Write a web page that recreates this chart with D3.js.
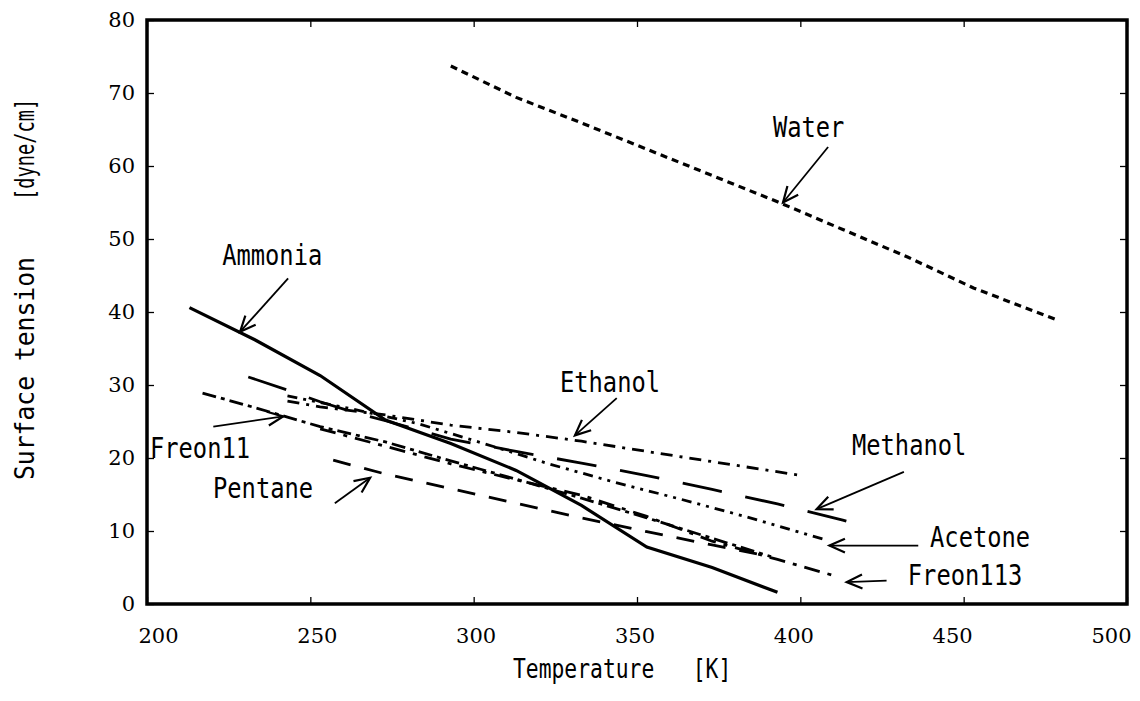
<!DOCTYPE html>
<html><head><meta charset="utf-8">
<script src="https://cdn.jsdelivr.net/npm/d3@7"></script>
<style>body{margin:0;background:#fff}svg{display:block}</style>
</head><body>
<script>
// ---------- data ----------
const xTicks = [200, 250, 300, 350, 400, 450, 500];
const yTicks = [0, 10, 20, 30, 40, 50, 60, 70, 80];

const waterT    = [293, 313, 333, 353, 373, 393, 413, 433, 453, 478];
const waterV    = [73.7, 69.4, 65.9, 62.3, 58.7, 55.1, 51.3, 47.5, 43.3, 39.0];
const ammoniaT  = [213, 233, 253, 273, 293, 313, 333, 353, 373, 393];
const ammoniaV  = [40.6, 36.2, 31.3, 25.2, 22.0, 18.3, 13.5, 7.8, 5.0, 1.6];
const ethanolT  = [243, 253, 273, 293, 313, 333, 353, 373, 399];
const ethanolV  = [27.8, 27.0, 25.9, 24.5, 23.5, 22.3, 20.9, 19.5, 17.7];
const methanolT = [231, 243, 253, 263, 273, 293, 313, 333, 353, 373, 393, 413, 421];
const methanolV = [31.1, 29.3, 27.7, 26.3, 25.1, 22.6, 20.9, 19.3, 17.6, 15.7, 13.7, 11.5, 10.5];
const acetoneT  = [243, 263, 283, 303, 323, 343, 363, 383, 407];
const acetoneV  = [28.5, 26.7, 24.7, 22.0, 19.2, 16.7, 14.4, 12.0, 8.9];
const freon11T  = [217, 233, 243, 253, 273, 293, 313, 333, 353, 373, 391];
const freon11V  = [28.9, 26.9, 25.6, 24.3, 22.2, 19.6, 17.1, 14.5, 11.8, 9.0, 6.5];
const freon113T = [253, 273, 293, 313, 333, 353, 373, 393, 411];
const freon113V = [24.0, 21.6, 19.2, 17.0, 14.9, 12.0, 8.6, 6.1, 3.8];
const pentaneT  = [257, 273, 293, 313, 333, 353, 373, 391];
const pentaneV  = [19.7, 17.8, 15.8, 13.8, 11.8, 9.9, 8.1, 6.5];

const seriesNames = ["Water", "Ammonia", "Ethanol", "Methanol", "Acetone", "Freon11", "Freon113", "Pentane"];

// labels (text anchor point in data units) and arrows (from -> tip, data units)
const labelNames = ["Water", "Ammonia", "Ethanol", "Methanol", "Acetone", "Freon113", "Freon11", "Pentane"];
const labelAt    = [[391.6, 64.0], [223, 46.4], [326.4, 29.0], [415.8, 20.4], [439.7, 7.8], [432.9, 2.6], [200.9, 20.0], [220.2, 14.5]];
const arrowFrom  = [[408.5, 62.6], [243.2, 44.6], [343.8, 28.2], [431.7, 18.1], [436.1, 8.0], [426.4, 3.2], [220.3, 24.3], [257.5, 13.8]];
const arrowTo    = [[394.7, 55.0], [228.5, 37.3], [331.0, 23.1], [405.0, 13.0], [408.9, 8.0], [414.2, 3.0], [241.7, 25.7], [268.3, 17.3]];

const xTitle = "Temperature   [K]";
const yTitleMain = "Surface tension";
const yTitleUnit = "[dyne/cm]";

// ---------- drawing ----------
const W = 1140, H = 701;
const svg = d3.select("body").append("svg").attr("width", W).attr("height", H);

const x = d3.scaleLinear().domain([200, 500]).range([147, 1127]);
const y = d3.scaleLinear().domain([0, 80]).range([604, 20]);
// tick labels in the original sit slightly inside the outer ticks
const xLab = d3.scaleLinear().domain([200, 500]).range([158, 1111]);

const styles = {
  Water:    {dash: "7,5",            w: 3.2},
  Ammonia:  {dash: null,             w: 3.2},
  Ethanol:  {dash: "12,7,3,7",       w: 2.8},
  Methanol: {dash: "40,24",          w: 2.8},
  Acetone:  {dash: "10,6,3,6,3,6",   w: 2.8},
  Freon11:  {dash: "14,5,4,5",       w: 2.8},
  Freon113: {dash: "16,8,4,8",       w: 2.8},
  Pentane:  {dash: "18,14",          w: 2.8}
};
const seriesData = {
  Water: [waterT, waterV], Ammonia: [ammoniaT, ammoniaV], Ethanol: [ethanolT, ethanolV],
  Methanol: [methanolT, methanolV], Acetone: [acetoneT, acetoneV], Freon11: [freon11T, freon11V],
  Freon113: [freon113T, freon113V], Pentane: [pentaneT, pentaneV]
};

const line = d3.line().x(d => x(d[0])).y(d => y(d[1]));
seriesNames.forEach(name => {
  const [ts, vs] = seriesData[name];
  const pts = ts.map((t, i) => [t, vs[i]]);
  svg.append("path").datum(pts)
    .attr("d", line)
    .attr("fill", "none")
    .attr("stroke", "#000")
    .attr("stroke-width", styles[name].w)
    .attr("stroke-dasharray", styles[name].dash);
});

// axes (inside ticks)
const xb = svg.append("g").attr("transform", `translate(0,${y(0)})`)
  .call(d3.axisBottom(x).tickValues(xTicks).tickSize(-7).tickFormat(""));
const xt = svg.append("g").attr("transform", `translate(0,${y(80)})`)
  .call(d3.axisTop(x).tickValues(xTicks).tickSize(-7).tickFormat(""));
const yl = svg.append("g").attr("transform", `translate(${x(200)},0)`)
  .call(d3.axisLeft(y).tickValues(yTicks).tickSize(-7).tickPadding(12).tickFormat(d3.format("d")));
const yr = svg.append("g").attr("transform", `translate(${x(500)},0)`)
  .call(d3.axisRight(y).tickValues(yTicks).tickSize(-7).tickFormat(""));
// x tick labels
const xlab = svg.append("g").attr("transform", `translate(0,${y(0)})`)
  .call(d3.axisBottom(xLab).tickValues(xTicks).tickSize(0).tickPadding(24).tickFormat(d3.format("d")));
[xb, xt, yl, yr, xlab].forEach(g => {
  g.select(".domain").remove();
  g.selectAll(".tick line").attr("stroke", "#000").attr("stroke-width", 1.3);
  g.selectAll("text").attr("font-family", "DejaVu Serif").attr("font-size", 21).attr("fill", "#000");
});

// frame
svg.append("rect")
  .attr("x", x(200)).attr("y", y(80))
  .attr("width", x(500) - x(200)).attr("height", y(0) - y(80))
  .attr("fill", "none").attr("stroke", "#000").attr("stroke-width", 3.5);

// condensed mono text helper
function ctext(px, py, str, size, sx, rot) {
  const g = svg.append("g").attr("transform", `translate(${px},${py})` + (rot ? ` rotate(${rot})` : "") + ` scale(${sx},1)`);
  g.append("text").attr("font-family", "DejaVu Sans Mono").attr("font-size", size)
    .attr("fill", "#000").attr("xml:space", "preserve").style("white-space", "pre").text(str);
}

labelNames.forEach((n, i) => ctext(x(labelAt[i][0]), y(labelAt[i][1]), n, 29, 0.82));

// arrows
labelNames.forEach((n, i) => {
  const x0 = x(arrowFrom[i][0]), y0 = y(arrowFrom[i][1]);
  const x1 = x(arrowTo[i][0]), y1 = y(arrowTo[i][1]);
  svg.append("line").attr("x1", x0).attr("y1", y0).attr("x2", x1).attr("y2", y1)
    .attr("stroke", "#000").attr("stroke-width", 1.8);
  const a = Math.atan2(y1 - y0, x1 - x0), L = 17, s = 0.42;
  const p1 = [x1 - L * Math.cos(a - s), y1 - L * Math.sin(a - s)];
  const p2 = [x1 - L * Math.cos(a + s), y1 - L * Math.sin(a + s)];
  svg.append("path").attr("d", `M${p1[0]},${p1[1]}L${x1},${y1}L${p2[0]},${p2[1]}`)
    .attr("fill", "none").attr("stroke", "#000").attr("stroke-width", 2.2);
});

// axis titles
ctext(513, 678, xTitle, 27, 0.79);
ctext(34, 480, yTitleMain, 26, 0.95, -90);
ctext(34, 200, yTitleUnit, 26, 0.72, -90);
</script>
</body></html>
